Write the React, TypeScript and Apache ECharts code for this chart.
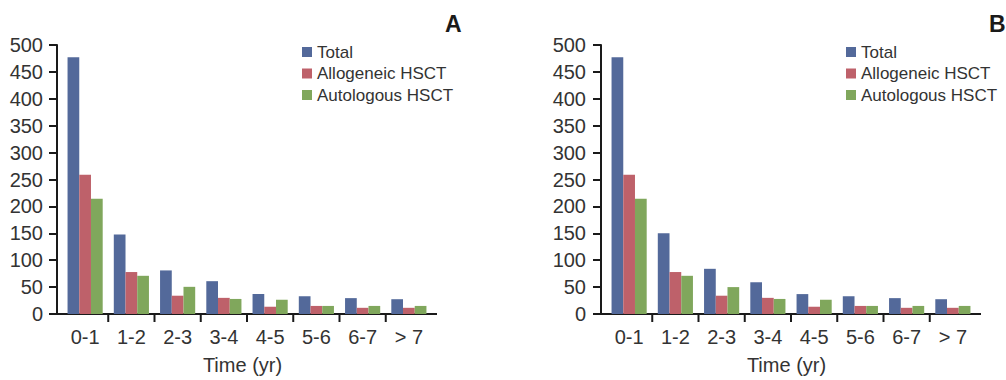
import React, { useEffect, useRef } from "react";
import * as echarts from "echarts";

const categories = ["0-1", "1-2", "2-3", "3-4", "4-5", "5-6", "6-7", "> 7"];
const seriesNames = ["Total", "Allogeneic HSCT", "Autologous HSCT"];
const colors = ["#53699A", "#BE616A", "#80A75C"];

const totalA = [477, 148, 81, 61, 37, 33, 29.5, 27.5];
const alloA = [259, 78, 34, 30, 13.5, 15, 11.5, 11.5];
const autoA = [214, 71, 50.5, 28, 26.5, 15, 15, 15];

const totalB = [477, 150, 84, 59, 37, 33, 29.5, 27.5];
const alloB = [259, 78, 34, 30, 13.5, 15, 11.5, 11.5];
const autoB = [214, 71, 50, 28, 26.5, 15, 15, 15];

const yTicks = { min: 0, max: 500, interval: 50 };
const panelLabels = ["A", "B"];

const FONT = "'Liberation Sans', Arial, sans-serif";
const TEXT = "#333333";
const AXIS = "#1a1a1a";

export default function App() {
  const ref = useRef<HTMLDivElement>(null);
  useEffect(() => {
    if (!ref.current) return;
    const chart = echarts.init(ref.current, undefined, { renderer: "svg" });
    const grids = [
      { left: 62, top: 45, width: 370, height: 271 },
      { left: 606, top: 45, width: 370, height: 271 },
    ];
    const data = [
      [totalA, alloA, autoA],
      [totalB, alloB, autoB],
    ];
    const yLabelMargin = [14, 15];
    const series: any[] = [];
    data.forEach((set, g) => {
      set.forEach((vals, i) => {
        series.push({
          type: "bar",
          name: seriesNames[i],
          xAxisIndex: g,
          yAxisIndex: g,
          data: vals,
          barGap: "0%",
          barCategoryGap: "24%",
          itemStyle: { color: colors[i] },
        });
      });
    });
    const option: any = {
      animation: false,
      textStyle: { fontFamily: FONT },
      grid: grids,
      xAxis: grids.map((_, g) => ({
        type: "category",
        gridIndex: g,
        data: categories,
        axisLine: { show: false },
        axisTick: { show: false },
        axisLabel: { color: TEXT, fontSize: 20, fontFamily: FONT, margin: 13 },
        name: "Time (yr)",
        nameLocation: "middle",
        nameGap: 41,
        nameTextStyle: { color: TEXT, fontSize: 20, fontFamily: FONT, padding: [0, 9, 0, 0] },
      })),
      yAxis: grids.map((_, g) => ({
        type: "value",
        gridIndex: g,
        min: yTicks.min,
        max: yTicks.max,
        interval: yTicks.interval,
        offset: 5,
        splitLine: { show: false },
        axisLine: { show: true, lineStyle: { color: AXIS, width: 2 } },
        axisTick: { show: true, length: 8, lineStyle: { color: AXIS, width: 2 } },
        axisLabel: { color: TEXT, fontSize: 20, fontFamily: FONT, margin: yLabelMargin[g] },
      })),
      legend: grids.map((gr) => ({
        orient: "vertical",
        left: gr.left + 240,
        top: 42,
        padding: 0,
        itemWidth: 10,
        itemHeight: 10,
        itemGap: 1.5,
        icon: "rect",
        data: seriesNames,
        textStyle: { color: TEXT, fontSize: 17, fontFamily: FONT, lineHeight: 20 },
      })),
      series,
    };
    chart.setOption(option);

    // axis decoration: full x-axis line and boundary ticks
    const graphics: any[] = [];
    grids.forEach((gr, g) => {
      const c0 = chart.convertToPixel({ xAxisIndex: g }, categories[0]) as number;
      const c1 = chart.convertToPixel({ xAxisIndex: g }, categories[1]) as number;
      const band = c1 - c0;
      const y0 = chart.convertToPixel({ yAxisIndex: g }, 0) as number;
      const yLine = gr.left - 5;
      const right = c0 + band * (categories.length - 0.5);
      graphics.push({
        type: "line",
        shape: { x1: yLine - 8, y1: y0, x2: right + 5, y2: y0 },
        style: { stroke: AXIS, lineWidth: 2 },
      });
      for (let i = 1; i < categories.length; i++) {
        const x = c0 + band * (i - 0.5);
        graphics.push({
          type: "line",
          shape: { x1: x, y1: y0, x2: x, y2: y0 + 8 },
          style: { stroke: AXIS, lineWidth: 2 },
        });
      }
      graphics.push({
        type: "text",
        left: gr.left + 383,
        top: 12,
        style: {
          text: panelLabels[g],
          fontSize: 23,
          fontWeight: "bold",
          fontFamily: FONT,
          fill: "#1a1a1a",
        },
      });
    });
    chart.setOption({ graphic: graphics });
    return () => chart.dispose();
  }, []);
  return <div ref={ref} style={{ width: 1006, height: 380, position: "absolute", left: 0, top: 0 }} />;
}
